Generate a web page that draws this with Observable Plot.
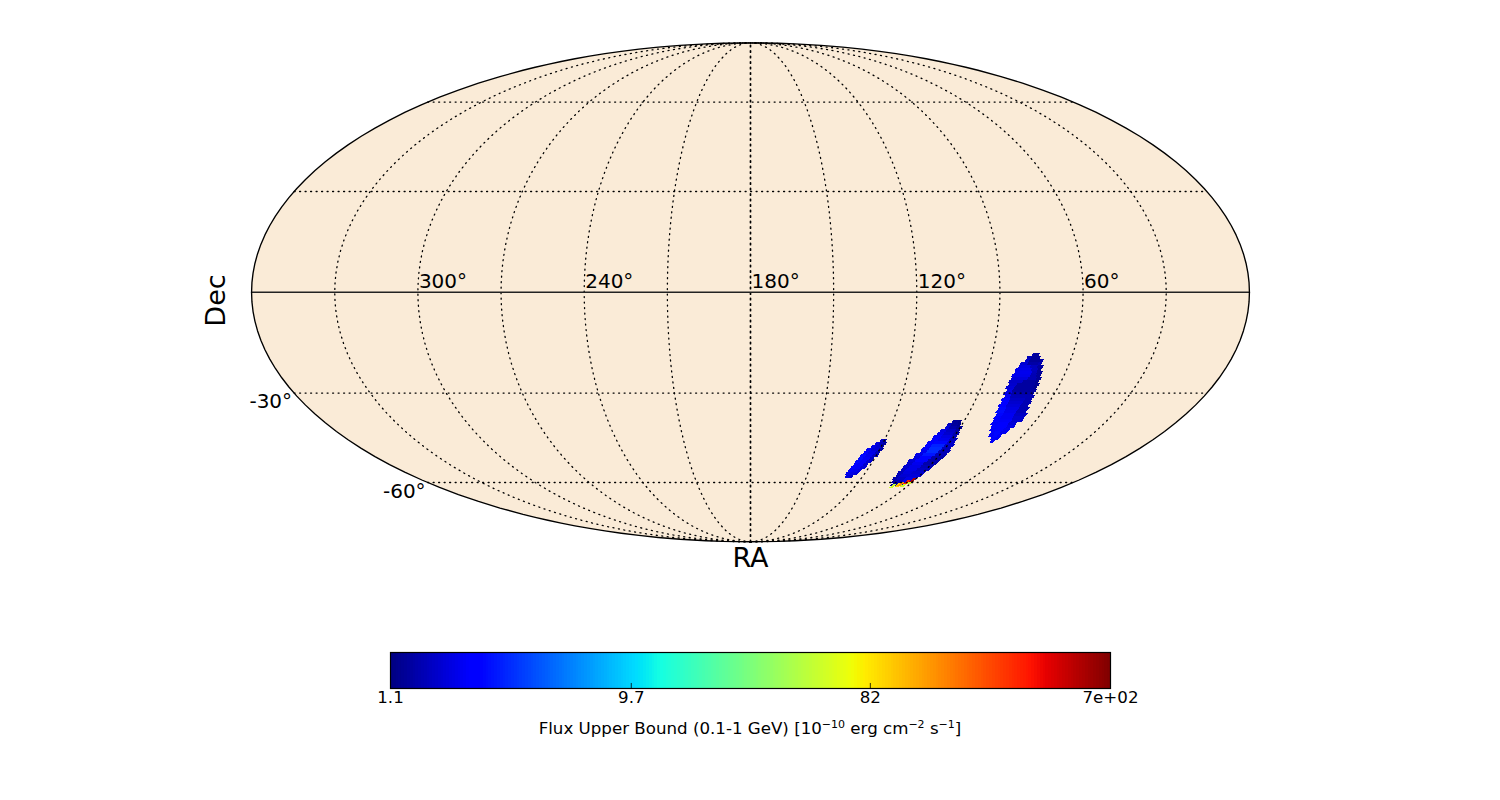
<!DOCTYPE html>
<html><head><meta charset="utf-8">
<script src="https://cdn.jsdelivr.net/npm/d3@7"></script>
<script src="https://cdn.jsdelivr.net/npm/@observablehq/plot@0.6"></script>
<style>html,body{margin:0;padding:0;background:#fff;overflow:hidden}svg{display:block}
#caption{width:1500px;height:20px;text-align:center;font:16.67px/22px 'DejaVu Sans';color:#000}
#caption sup{font-size:.66em;line-height:0;vertical-align:baseline;position:relative;top:-.55em}</style>
</head><body>
<div id="map"></div><div id="bar"></div><div id="caption"></div>
<script>
// Sky regions: [dec, ra at west edge, ra at core start, ra at core end, ra at east edge]
const eastRows = [[-18.3,75.0,74.2,73.1,72.4],[-19.2,76.6,75.0,72.0,71.6],[-20.1,76.9,75.4,71.2,70.1],[-21.0,78.4,75.7,71.6,70.4],[-21.9,78.7,74.2,71.6,69.3],[-22.8,79.5,73.4,71.1,69.6],[-23.7,79.4,72.9,71.0,68.8],[-24.6,80.1,72.9,70.6,69.0],[-25.5,79.7,73.5,70.1,68.2],[-26.5,80.2,74.9,69.9,68.7],[-27.4,79.8,76.7,69.7,67.9],[-28.3,80.3,77.0,69.5,68.3],[-29.2,79.5,77.2,69.7,67.9],[-30.1,80.0,77.0,69.9,68.2],[-31.1,79.1,76.8,70.4,67.3],[-32.0,79.8,76.5,70.5,67.7],[-32.9,79.1,76.3,70.6,67.1],[-33.9,79.7,76.4,70.7,67.5],[-34.8,78.9,76.0,70.7,66.4],[-35.8,79.2,75.7,70.8,66.7],[-36.7,78.2,75.7,70.8,65.5],[-37.7,78.4,75.7,70.7,65.8],[-38.6,77.8,75.3,70.2,65.6],[-39.6,78.0,75.2,70.6,67.2],[-40.6,76.9,74.7,70.4,67.0],[-41.5,76.5,74.2,70.7,68.1],[-42.5,75.3,73.6,71.0,68.0],[-43.5,75.1,72.9,71.2,69.4],[-44.5,73.1,72.3,70.9,69.3],[-45.5,72.0,71.1,70.6,70.2]];
const eastFlux = [[1.45,1.3,1.35],[1.55,1.3,1.4],[1.7,1.3,1.45],[1.8,1.4,1.5],[1.95,1.6,1.35],[2.05,1.6,1.3],[2.1,1.55,1.3],[2.05,1.5,1.3],[1.9,1.5,1.3],[1.7,1.35,1.25],[1.75,1.35,1.25],[1.85,1.35,1.25],[1.95,1.35,1.35],[2.05,1.45,1.45],[2.15,1.55,1.5],[2.3,1.65,1.5],[2.4,1.75,1.5],[2.5,1.85,1.5],[2.6,1.95,1.5],[2.7,2.05,1.55],[2.6,2.15,1.65],[2.5,2.15,1.75],[2.3,2.2,1.75],[2.2,2.3,1.85],[2.3,2.4,2.0],[2.2,2.5,2.1],[2.2,2.6,2.1],[2.2,2.6,2.2],[2.2,2.4,2.2],[2.2,2.2,2.2]];
const middleRows = [[-39.0,94.8,94.4,92.3,91.1],[-39.9,96.2,94.5,91.9,90.6],[-40.9,96.3,94.6,91.6,89.1],[-41.9,97.7,95.1,91.2,89.4],[-42.9,98.2,95.5,91.2,88.6],[-43.8,99.2,95.6,91.1,88.9],[-44.8,99.1,96.0,91.1,87.7],[-45.8,100.1,96.9,91.0,87.8],[-46.9,100.0,97.3,91.3,86.9],[-47.9,100.6,97.2,91.6,87.4],[-48.9,100.3,97.5,91.9,86.5],[-49.9,101.7,98.3,92.2,86.9],[-51.0,101.5,98.6,92.9,86.8],[-52.0,102.8,99.4,93.5,87.6],[-53.1,102.6,99.7,94.2,87.5],[-54.1,102.9,99.9,94.3,88.2],[-55.2,102.6,100.1,94.9,88.0],[-56.3,103.3,100.2,95.5,89.1],[-57.4,102.4,100.3,95.5,88.8],[-58.5,103.0,100.3,96.0,89.9],[-59.6,101.4,99.8,96.4,90.0],[-60.8,100.2,99.1,96.8,93.4]];
const middleFlux = [[1.45,1.3,1.22],[1.65,1.32,1.22],[1.85,1.45,1.3],[1.95,1.65,1.35],[2.05,1.75,1.45],[2.2,1.95,1.55],[2.3,2.1,1.6],[2.4,2.6,1.7],[2.3,3.1,1.7],[2.2,3.3,1.6],[2.1,3.3,1.55],[2.0,2.9,1.55],[1.9,2.5,1.45],[1.85,2.3,1.45],[1.75,2.1,1.45],[1.75,2.0,1.55],[1.65,2.0,1.65],[1.6,1.9,1.75],[1.55,1.8,1.85],[1.45,1.65,2.0],[1.35,1.55,2.0],[1.3,1.4,1.6]];
const westRows = [[-45.2,121.7,120.8,119.9,119.0],[-46.2,123.4,121.5,119.7,118.4],[-47.2,124.5,122.6,119.9,118.8],[-48.2,126.1,123.8,120.5,118.4],[-49.2,126.8,124.5,121.2,119.1],[-50.3,127.6,125.1,121.8,119.1],[-51.3,127.8,125.8,122.4,120.3],[-52.4,128.5,126.0,123.1,120.3],[-53.4,128.6,126.7,123.7,121.5],[-54.5,129.3,126.8,124.3,121.4],[-55.6,129.5,127.4,124.8,123.1],[-56.7,130.1,127.5,125.4,123.5],[-57.8,129.2,127.6,126.5,125.4]];
const westFlux = [[1.7,1.5,1.35],[1.9,1.6,1.35],[2.0,1.8,1.45],[2.2,1.85,1.45],[2.4,2.0,1.55],[2.6,2.1,1.65],[2.7,2.2,1.65],[2.6,2.2,1.75],[2.4,2.2,1.75],[2.3,2.2,1.85],[2.2,2.1,1.95],[2.1,2.0,1.85],[1.9,1.85,1.65]];
const hotDec = [-61.3,-61.0,-60.6,-61.0,-59.8,-59.8,-59.1];
const hotRa = [98.5,95.9,95.2,92.9,93.1,90.9,91.0];
const hotFlux = [53,90,142,53,325,53,570];

const raGrid = [30,60,90,120,150,180,210,240,270,300,330];
const decGrid = [-60,-30,30,60];
const raLabels = [300,240,180,120,60];
const decLabels = [-30,-60];
const fluxMin = 1.13, fluxMax = 700;
const fluxTicks = [1.13,9.7,82,700];
const fluxTickLabels = ["1.1","9.7","82","7e+02"];
const captionParts = ["Flux Upper Bound (0.1-1 GeV) [10","−10"," erg cm","−2"," s","−1","]"];

const FONT = "'DejaVu Sans'";
const lon = ra => 180 - ra;

// Mollweide projection
function mollweideRaw(l, p) {
  const k = Math.PI * Math.sin(p);
  let a = p * 2;
  if (Math.abs(Math.abs(p) - Math.PI / 2) > 1e-7) {
    for (let i = 0; i < 40; i++) {
      const d = (a + Math.sin(a) - k) / (1 + Math.cos(a));
      a -= d;
      if (Math.abs(d) < 1e-9) break;
    }
  }
  const t = a / 2;
  return [2 * Math.SQRT2 / Math.PI * l * Math.cos(t), Math.SQRT2 * Math.sin(t)];
}
const projection = d3.geoProjection(mollweideRaw).scale(176.4).translate([750, 291.8]).precision(0.1);

// matplotlib "jet"
const jr = d3.scaleLinear([0,.35,.66,.89,1],[0,0,1,1,.5]).clamp(true);
const jg = d3.scaleLinear([0,.125,.375,.64,.91,1],[0,0,1,1,0,0]).clamp(true);
const jb = d3.scaleLinear([0,.11,.34,.65,1],[.5,1,1,0,0]).clamp(true);
const jet = t => `rgb(${Math.round(jr(t)*255)},${Math.round(jg(t)*255)},${Math.round(jb(t)*255)})`;
const colorScale = {type:"log", domain:[fluxMin,fluxMax], interpolate: jet, clamp:true};

const box = (raW, raE, dec, h) => {
  const W = lon(raW), E = lon(raE);
  return {type:"Polygon", coordinates:[[[W,dec+h],[E,dec+h],[E,dec-h],[W,dec-h],[W,dec+h]]]};
};
const cells = [];
[[eastRows,eastFlux],[middleRows,middleFlux],[westRows,westFlux]].forEach(([rows,flux]) => {
  rows.forEach((r,i) => {
    [0,1,2].forEach(j => cells.push({geometry: box(r[j+1], r[j+2], r[0], 0.54), flux: flux[i][j]}));
  });
});
hotFlux.forEach((f,i) => cells.push({geometry: box(hotRa[i]+1, hotRa[i]-1, hotDec[i], 0.62), flux: f}));

const meridian = ra => ({type:"LineString", coordinates: d3.range(-90,91,3).map(d => [lon(ra), d])});
const parallel = dec => ({type:"LineString", coordinates: d3.range(-179.99,180,3).concat([179.99]).map(l => [l, dec])});
const dots = {stroke:"#000", strokeWidth:1.3, strokeDasharray:"1,4.5"};

const map = Plot.plot({
  width:1500, height:620, margin:0, projection,
  color: colorScale,
  style:{fontFamily:FONT, background:"#fff", color:"#000"},
  marks:[
    Plot.sphere({fill:"#faebd7", stroke:"none"}),
    Plot.geo(cells, {geometry:d=>d.geometry, fill:d=>d.flux, stroke:"none", shapeRendering:"crispEdges"}),
    Plot.geo(raGrid.filter(d=>d!==180), {geometry:meridian, ...dots}),
    Plot.geo([180], {geometry:meridian, stroke:"#000", strokeWidth:1.7, strokeDasharray:"1.4,4.1"}),
    Plot.geo(decGrid, {geometry:parallel, ...dots}),
    Plot.geo([0], {geometry:parallel, stroke:"#222", strokeWidth:1.5}),
    Plot.sphere({fill:"none", stroke:"#000", strokeWidth:1.35}),
    Plot.text(raLabels, {x:lon, y:()=>0, text:d=>`${d}°`, textAnchor:"start", dx:1, dy:-11, fontSize:20, fill:"#000"}),
    Plot.text(decLabels, {x:()=>-180, y:d=>d, text:d=>`${d}°`, textAnchor:"end", dx:-2, dy:9, fontSize:20, fill:"#000"}),
    Plot.text(["Dec"], {text:d=>d, frameAnchor:"top-left", dx:205, dy:300, rotate:-90, textAnchor:"middle", fontSize:27, fill:"#000"}),
    Plot.text(["RA"], {text:d=>d, frameAnchor:"top-left", dx:750, dy:547, textAnchor:"middle", fontSize:27, fill:"#000"})
  ]
});
document.getElementById("map").append(map);

const stripEdges = d3.range(257).map(i => fluxMin * (fluxMax/fluxMin) ** (i/256));
const strip = d3.pairs(stripEdges);
const bar = Plot.plot({
  width:1500, height:98,
  marginLeft:390, marginRight:390, marginTop:32, marginBottom:30,
  x:{type:"log", domain:[fluxMin,fluxMax], axis:null},
  y:{domain:[0,1], axis:null},
  color: colorScale,
  style:{fontFamily:FONT, background:"#fff", color:"#000"},
  marks:[
    Plot.rect(strip, {x1:d=>d[0], x2:d=>d[1], y1:()=>0, y2:()=>1, fill:d=>Math.sqrt(d[0]*d[1]), shapeRendering:"crispEdges"}),
    Plot.ruleX(fluxTicks.slice(1,3), {y1:()=>0, y2:()=>0.14, stroke:"#000", strokeWidth:0.8}),
    Plot.frame({stroke:"#000", strokeWidth:1.2}),
    Plot.text(fluxTicks, {x:d=>d, frameAnchor:"bottom", dy:14, text:(d,i)=>fluxTickLabels[i], fontSize:16.67, fill:"#000"})
  ]
});
document.getElementById("bar").append(bar);

const cap = document.getElementById("caption");
captionParts.forEach((p,i) => {
  const el = document.createElement(i % 2 ? "sup" : "span");
  el.textContent = p;
  cap.append(el);
});
</script></body></html>
